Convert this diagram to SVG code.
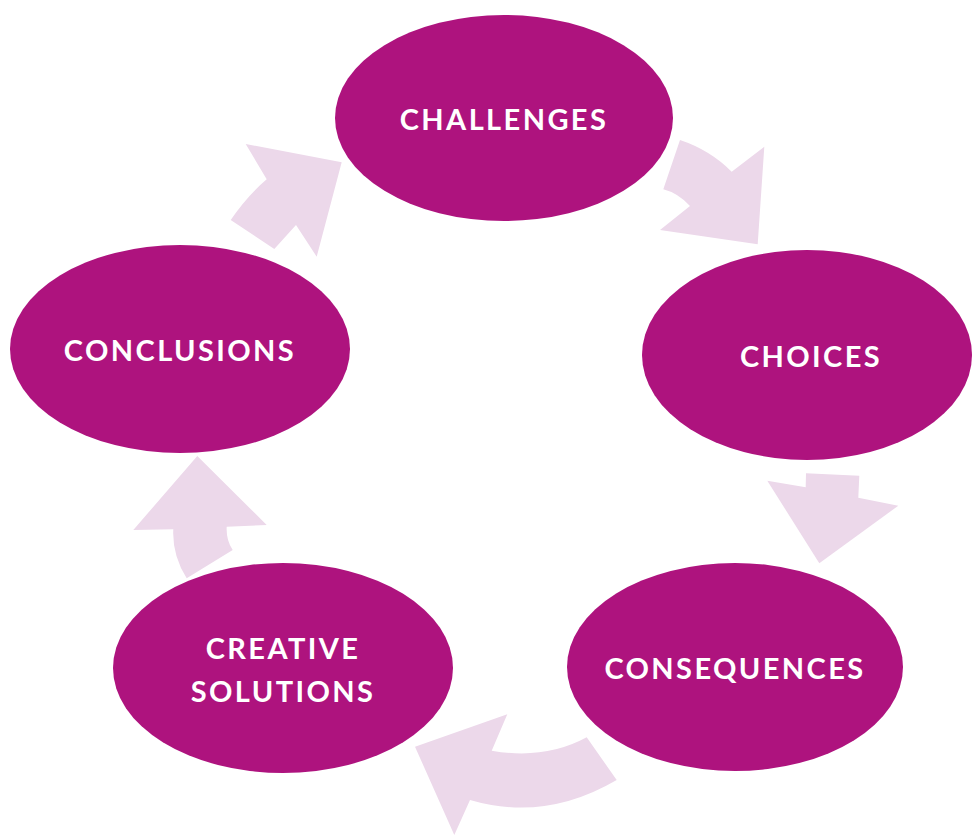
<svg xmlns="http://www.w3.org/2000/svg" width="972" height="835" viewBox="0 0 972 835">
<style>
.node{fill:#AE137E}
.lbl{fill:#fff;font-family:Lato,"Open Sans","Liberation Sans",sans-serif;font-weight:700;font-size:29px;letter-spacing:2.4px;text-anchor:middle}
.arr{fill:#ECD8EA}
</style>
<rect width="972" height="835" fill="#fff"/>
<g id="connectors">
<path class="arr" d="M341.7,162.3 L245.7,144 L266.7,179.3 Q247,196 230.7,220 L274.3,249 L296,225 L316.7,256.7 Z"/>
<path class="arr" d="M764.3,146.7 L757.7,244.3 L660,230 L690,206 Q678,193 663.3,189.3 L680,140 Q710,150 731.7,171.7 Z"/>
<path class="arr" d="M767.3,480.7 L805.7,487.3 L806,473.3 L859.3,475.7 L858.3,497.7 L898.3,505.7 L819.3,563.3 Z"/>
<path class="arr" d="M507.3,714.3 L415,746.7 L454.3,835 L470,800 Q545,822 616.7,780 L586.7,737.3 Q545,760 491.7,750.7 Z"/>
<path class="arr" d="M197.3,456 L266.7,525 L226.7,526.7 Q226,540 232.7,550 L186.7,578.3 Q172,555 173.3,529.3 L133.3,530 Z"/>
</g>
<g id="challenges"><ellipse class="node" cx="504" cy="118" rx="169" ry="103"/><text class="lbl" x="504" y="130">CHALLENGES</text></g>
<g id="choices"><ellipse class="node" cx="807" cy="355" rx="165" ry="105"/><text class="lbl" x="811" y="367">CHOICES</text></g>
<g id="consequences"><ellipse class="node" cx="735" cy="667" rx="168" ry="104"/><text class="lbl" x="735" y="679">CONSEQUENCES</text></g>
<g id="creative-solutions"><ellipse class="node" cx="283" cy="668" rx="170" ry="105"/><text class="lbl" x="283" y="659">CREATIVE</text><text class="lbl" x="283" y="702">SOLUTIONS</text></g>
<g id="conclusions"><ellipse class="node" cx="180" cy="349" rx="170" ry="104"/><text class="lbl" x="180" y="361">CONCLUSIONS</text></g>
</svg>
